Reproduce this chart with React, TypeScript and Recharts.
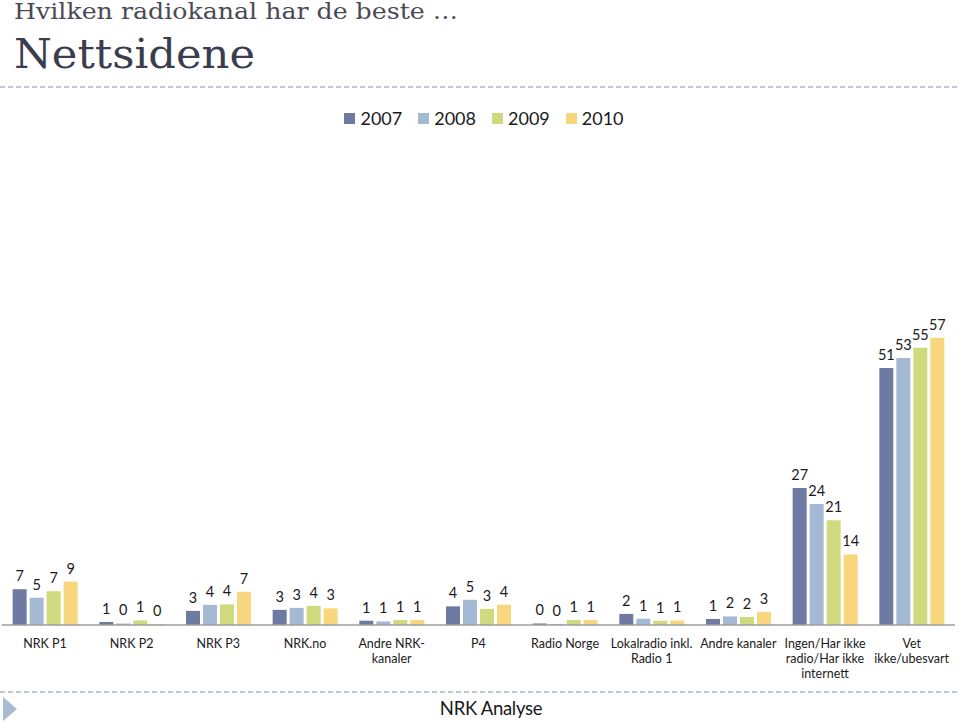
import React from "react";
import { BarChart, Bar, XAxis, YAxis, LabelList } from "recharts";

const categories = [
  "NRK P1",
  "NRK P2",
  "NRK P3",
  "NRK.no",
  "Andre NRK-\nkanaler",
  "P4",
  "Radio Norge",
  "Lokalradio inkl.\nRadio 1",
  "Andre kanaler",
  "Ingen/Har ikke\nradio/Har ikke\ninternett",
  "Vet\nikke/ubesvart",
];
const years = ["2007", "2008", "2009", "2010"];
const v2007 = [7.1, 0.6, 2.8, 3.0, 0.85, 3.7, 0.3, 2.2, 1.2, 27.2, 51];
const v2008 = [5.4, 0.3, 4.0, 3.4, 0.7, 5.0, 0.2, 1.25, 1.7, 24, 53];
const v2009 = [6.7, 0.9, 4.1, 3.8, 1.0, 3.2, 1.0, 0.85, 1.6, 20.8, 55];
const v2010 = [8.6, 0.2, 6.6, 3.3, 1.0, 4.0, 1.0, 0.9, 2.6, 14, 57];
const colors = ["#6F7AA2", "#A4B9D4", "#CFDA7F", "#F8D67E"];

const series = [v2007, v2008, v2009, v2010];
const data = categories.map((c, i) => {
  const row: any = { name: c };
  years.forEach((y, k) => (row[y] = series[k][i]));
  return row;
});

const SANS = "Lato, 'Open Sans', sans-serif";

const CatTick = (props: any) => {
  const { x, y, payload } = props;
  const lines = String(payload.value).split("\n");
  return (
    <text x={x} y={y} textAnchor="middle" fontFamily={SANS} fontSize={12.5} fill="#1a1a1a">
      {lines.map((l, i) => (
        <tspan key={i} x={x} dy={15}>
          {l}
        </tspan>
      ))}
    </text>
  );
};

const fmt = (v: any) => Math.round(Number(v));

export default function App() {
  return (
    <div style={{ position: "absolute", left: 0, top: 0, width: 960, height: 723, background: "#fff", overflow: "hidden" }}>
      <svg width={960} height={723} style={{ position: "absolute", left: 0, top: 0 }}>
        <text x={14} y={18.5} fontFamily="'DejaVu Serif', serif" fontSize={21.5} fill="#4a4a55" textLength={444} lengthAdjust="spacingAndGlyphs">
          Hvilken radiokanal har de beste …
        </text>
        <text x={14} y={68} fontFamily="'DejaVu Serif', serif" fontSize={41} fill="#3b3d4f" textLength={241} lengthAdjust="spacingAndGlyphs">
          Nettsidene
        </text>
        <line x1={0} y1={87} x2={960} y2={87} stroke="#BCC7D8" strokeWidth={2} strokeDasharray="5 3" />
        <line x1={0} y1={692} x2={960} y2={692} stroke="#BCC7D8" strokeWidth={2} strokeDasharray="5 3" />
        <polygon points="3,697 17,709 3,721" fill="#A9BCD3" />
        <text x={491} y={715} textAnchor="middle" fontFamily={SANS} fontSize={18.5} fill="#1a1a1a" letterSpacing={-0.3}>
          NRK Analyse
        </text>
      </svg>
      <div
        style={{
          position: "absolute",
          top: 106,
          left: 4,
          width: 960,
          height: 24,
          display: "flex",
          justifyContent: "center",
          alignItems: "center",
          fontFamily: SANS,
          fontSize: 18,
          color: "#1a1a1a",
        }}
      >
        {years.map((y, k) => (
          <div key={y} style={{ display: "flex", alignItems: "center", marginRight: k < 3 ? 16 : 0 }}>
            <div style={{ width: 11, height: 11, background: colors[k], marginRight: 5 }} />
            <span>{y}</span>
          </div>
        ))}
      </div>
      <div style={{ position: "absolute", left: 0, top: 0 }}>
        <BarChart
          width={960}
          height={723}
          data={data}
          margin={{ top: 322.6, right: 5, bottom: 38, left: 1.65 }}
          barGap={3}
          barSize={14}
        >
          <YAxis hide domain={[0, 60]} />
          <XAxis
            dataKey="name"
            interval={0}
            height={60}
            tickLine={false}
            axisLine={{ stroke: "#9E9E9E", strokeWidth: 1.5 }}
            tick={<CatTick />}
          />
          {years.map((y, k) => (
            <Bar key={y} dataKey={y} fill={colors[k]} isAnimationActive={false}>
              <LabelList dataKey={y} position="top" offset={8} formatter={fmt} style={{ fontFamily: SANS, fontSize: 14.5, fill: "#1a1a1a" }} />
            </Bar>
          ))}
        </BarChart>
      </div>
    </div>
  );
}
